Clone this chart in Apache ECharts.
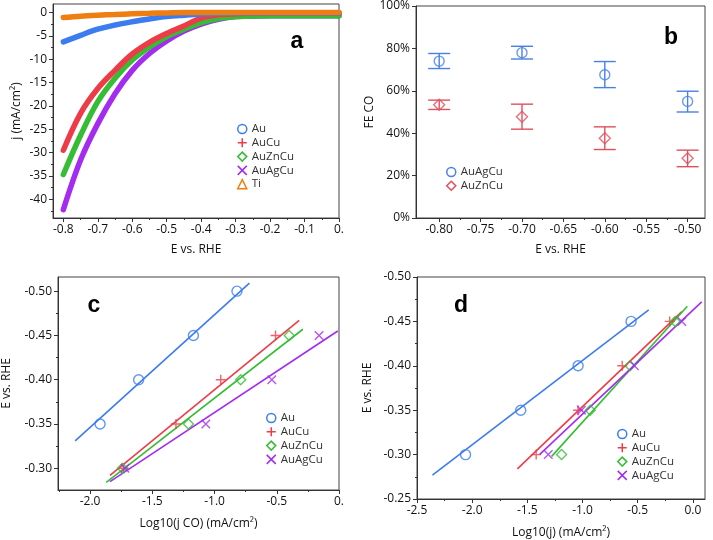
<!DOCTYPE html>
<html>
<head>
<meta charset="utf-8">
<script src="https://cdn.jsdelivr.net/npm/echarts@6/dist/echarts.min.js"></script>
<style>
  html, body { margin: 0; padding: 0; background: #fff; }
  #main { width: 713px; height: 540px; }
</style>
</head>
<body>
<div id="main"></div>
<script>
// ---- panel a : LSV curves ----
var aE = [-0.80, -0.75, -0.70, -0.65, -0.60, -0.55, -0.50, -0.45, -0.40, -0.35, -0.30, -0.25, -0.20, -0.15, -0.10, -0.05, 0.00];
var aAu = [-6.3, -4.9, -3.6, -2.7, -2.0, -1.4, -0.9, -0.6, -0.35, -0.2, -0.1, -0.1, -0.1, -0.1, -0.1, -0.1, -0.1];
var aAuCu = [-29.5, -21.6, -16.3, -12.4, -8.9, -6.4, -4.5, -2.9, -1.2, -0.5, -0.3, -0.2, -0.2, -0.2, -0.2, -0.2, -0.2];
var aAuZnCu = [-34.7, -26.3, -19.1, -14.1, -10.2, -7.4, -5.2, -3.6, -2.2, -1.3, -0.9, -0.75, -0.7, -0.7, -0.7, -0.7, -0.7];
var aAuAgCu = [-42.2, -31.6, -23.8, -17.4, -12.4, -8.8, -6.1, -4.0, -2.5, -1.5, -0.9, -0.75, -0.7, -0.7, -0.7, -0.7, -0.7];
var aTi = [-1.1, -0.8, -0.6, -0.45, -0.3, -0.2, -0.1, 0, 0, 0, 0, 0, 0, 0, 0, 0, 0];
var aXTicks = [-0.8, -0.7, -0.6, -0.5, -0.4, -0.3, -0.2, -0.1, 0];
var aXLabels = ['-0.8', '-0.7', '-0.6', '-0.5', '-0.4', '-0.3', '-0.2', '-0.1', '0.'];
var aXMinor = [-0.75, -0.65, -0.55, -0.45, -0.35, -0.25, -0.15, -0.05];
var aYTicks = [0, -5, -10, -15, -20, -25, -30, -35, -40];
var aYLabels = ['0', '-5', '-10', '-15', '-20', '-25', '-30', '-35', '-40'];
var aYMinor = [-2.5, -7.5, -12.5, -17.5, -22.5, -27.5, -32.5, -37.5, -42.5];

// ---- panel b : FE CO ----
var bE = [-0.80, -0.70, -0.60, -0.50];
var bAgFE = [74.0, 78.0, 67.6, 55.0];
var bAgLow = [70.5, 75.0, 61.5, 50.0];
var bAgHigh = [77.6, 81.0, 73.8, 59.8];
var bZnFE = [53.4, 47.8, 37.6, 28.2];
var bZnLow = [51.2, 41.9, 32.3, 24.2];
var bZnHigh = [55.6, 53.7, 43.0, 32.0];
var bXTicks = [-0.80, -0.75, -0.70, -0.65, -0.60, -0.55, -0.50];
var bXLabels = ['-0.80', '-0.75', '-0.70', '-0.65', '-0.60', '-0.55', '-0.50'];
var bXMinor = [-0.775, -0.725, -0.675, -0.625, -0.575, -0.525];
var bYTicks = [0, 20, 40, 60, 80, 100];
var bYLabels = ['0%', '20%', '40%', '60%', '80%', '100%'];

// ---- panel c : Tafel vs log j CO ----
var cE = [-0.30, -0.35, -0.40, -0.45];
var cAuE = [-0.35, -0.40, -0.45, -0.50];
var cAuX = [-1.92, -1.61, -1.17, -0.82];
var cAuCuX = [-1.73, -1.31, -0.95, -0.51];
var cAuZnCuX = [-1.74, -1.21, -0.79, -0.40];
var cAuAgCuX = [-1.72, -1.07, -0.54, -0.16];
var cAuFit = [[-2.12, -0.331], [-0.72, -0.509]];
var cAuCuFit = [[-1.84, -0.292], [-0.32, -0.467]];
var cAuZnCuFit = [[-1.87, -0.284], [-0.29, -0.457]];
var cAuAgCuFit = [[-1.84, -0.285], [-0.01, -0.455]];
var cXTicks = [-2.0, -1.5, -1.0, -0.5, 0];
var cXLabels = ['-2.0', '-1.5', '-1.0', '-0.5', '0.'];
var cXMinor = [-2.25, -1.75, -1.25, -0.75, -0.25];
var cYTicks = [-0.50, -0.45, -0.40, -0.35, -0.30];
var cYLabels = ['-0.50', '-0.45', '-0.40', '-0.35', '-0.30'];
var cYMinor = [-0.475, -0.425, -0.375, -0.325];

// ---- panel d : Tafel vs log j ----
var dE = [-0.30, -0.35, -0.40, -0.45];
var dAuX = [-2.06, -1.56, -1.04, -0.56];
var dAuCuX = [-1.42, -1.04, -0.64, -0.21];
var dAuZnCuX = [-1.19, -0.93, -0.57, -0.16];
var dAuAgCuX = [-1.31, -1.01, -0.53, -0.10];
var dAuFit = [[-2.36, -0.277], [-0.40, -0.463]];
var dAuCuFit = [[-1.59, -0.284], [-0.10, -0.461]];
var dAuZnCuFit = [[-1.28, -0.298], [-0.05, -0.467]];
var dAuAgCuFit = [[-1.39, -0.300], [0.08, -0.472]];
var dXTicks = [-2.5, -2.0, -1.5, -1.0, -0.5, 0.0];
var dXLabels = ['-2.5', '-2.0', '-1.5', '-1.0', '-0.5', '0.0'];
var dXMinor = [-2.25, -1.75, -1.25, -0.75, -0.25];
var dYTicks = [-0.50, -0.45, -0.40, -0.35, -0.30, -0.25];
var dYLabels = ['-0.50', '-0.45', '-0.40', '-0.35', '-0.30', '-0.25'];
var dYMinor = [-0.475, -0.425, -0.375, -0.325, -0.275];

var FONT = 'Open Sans';
var PLUS = 'path://M5,0L5,10M0,5L10,5';
var CROSS = 'path://M0,0L10,10M10,0L0,10';
var C = { blue: '#3b7cee', red: '#ee3b48', green: '#36bd36', purple: '#a32cf0', orange: '#ee7d12' };
var SYM = { Au: 'circle', AuCu: PLUS, AuZnCu: 'diamond', AuAgCu: CROSS, Ti: 'triangle' };

function zip(xs, ys) {
    var out = [];
    for (var i = 0; i < xs.length; i++) out.push([xs[i], ys[i]]);
    return out;
}
function lookup(ticks, labels) {
    return function (v) {
        for (var i = 0; i < ticks.length; i++) {
            if (Math.abs(ticks[i] - v) < 1e-6) return labels[i];
        }
        return '';
    };
}
// main axis with custom ticks / labels
function axis(g, pos, min, max, ticks, labels, name, gap, extra) {
    var a = {
        type: 'value', gridIndex: g, position: pos, offset: 0, min: min, max: max,
        axisLine: { show: true, onZero: false, lineStyle: { color: '#333', width: 1 } },
        axisTick: { show: true, customValues: ticks, length: 4, lineStyle: { color: '#333' } },
        axisLabel: { customValues: ticks, formatter: lookup(ticks, labels), color: '#111', fontSize: 12, fontFamily: FONT, margin: 6 },
        splitLine: { show: false },
        name: name, nameLocation: 'middle', nameGap: gap,
        nameTextStyle: { color: '#111', fontSize: 12, fontFamily: FONT }
    };
    for (var k in extra) a[k] = extra[k];
    return a;
}
// extra axis carrying only the short minor ticks
function minorAxis(g, pos, min, max, ticks, extra) {
    var a = {
        type: 'value', gridIndex: g, position: pos, offset: 0, min: min, max: max,
        axisLine: { show: false, onZero: false },
        axisTick: { show: true, customValues: ticks, length: 2, lineStyle: { color: '#333' } },
        axisLabel: { show: false },
        splitLine: { show: false }
    };
    for (var k in extra) a[k] = extra[k];
    return a;
}
function legendItem(name, sym, color) {
    return {
        name: name, icon: SYM[sym],
        itemStyle: { color: 'rgba(0,0,0,0)', borderColor: color, borderWidth: 1.5 }
    };
}
function legend(left, top, items) {
    return {
        orient: 'vertical', left: left, top: top, itemWidth: 9, itemHeight: 9, itemGap: 1.8,
        selectedMode: false,
        textStyle: { color: '#333', fontSize: 11.5, fontFamily: FONT },
        padding: 0, data: items
    };
}
function curve(name, ys, color, z) {
    return {
        name: name, type: 'line', xAxisIndex: 0, yAxisIndex: 0, data: zip(aE, ys),
        smooth: 0.35, showSymbol: false, z: z,
        lineStyle: { color: color, width: 5.5, cap: 'round' }, itemStyle: { color: color }
    };
}
function pts(name, xi, yi, xs, ys, color) {
    return {
        name: name, type: 'scatter', xAxisIndex: xi, yAxisIndex: yi, data: zip(xs, ys),
        symbol: SYM[name], symbolSize: name === 'AuAgCu' ? 8.5 : 10, z: 5,
        itemStyle: { color: 'rgba(0,0,0,0)', borderColor: color, borderWidth: 1.4 }
    };
}
function fit(name, xi, yi, d, color) {
    return {
        name: name, type: 'line', xAxisIndex: xi, yAxisIndex: yi, data: d,
        showSymbol: false, z: 3, lineStyle: { color: color, width: 1.6 }, itemStyle: { color: color }
    };
}
function errBars(name, lows, highs, color) {
    var d = [];
    for (var i = 0; i < bE.length; i++) d.push([bE[i], lows[i], highs[i]]);
    return {
        name: name, type: 'custom', xAxisIndex: 2, yAxisIndex: 2, data: d, z: 2,
        renderItem: function (params, api) {
            var top = api.coord([api.value(0), api.value(2)]);
            var bot = api.coord([api.value(0), api.value(1)]);
            var w = 11, st = { stroke: color, lineWidth: 1.4 };
            return {
                type: 'group', children: [
                    { type: 'line', shape: { x1: top[0], y1: top[1], x2: bot[0], y2: bot[1] }, style: st },
                    { type: 'line', shape: { x1: top[0] - w, y1: top[1], x2: top[0] + w, y2: top[1] }, style: st },
                    { type: 'line', shape: { x1: bot[0] - w, y1: bot[1], x2: bot[0] + w, y2: bot[1] }, style: st }
                ]
            };
        }
    };
}

var bBlue = '#4a7fe6', bRed = '#e04f5e';
var gridStyle = { show: true, borderColor: '#444', borderWidth: 1, backgroundColor: 'transparent' };

var option = {
    backgroundColor: '#fff',
    animation: false,
    grid: [
        Object.assign({ left: 53, top: 4, width: 286, height: 214 }, gridStyle),
        Object.assign({ left: 53, top: 277, width: 286, height: 213 }, gridStyle),
        Object.assign({ left: 416, top: 5, width: 289, height: 213 }, gridStyle),
        Object.assign({ left: 417, top: 277, width: 288, height: 222 }, gridStyle)
    ],
    xAxis: [
        axis(0, 'bottom', -0.83, 0, aXTicks, aXLabels, 'E vs. RHE', 26),
        axis(1, 'bottom', -2.258, 0, cXTicks, cXLabels, 'Log10(j CO) (mA/cm²)', 28),
        axis(2, 'bottom', -0.828, -0.479, bXTicks, bXLabels, 'E vs. RHE', 26),
        axis(3, 'bottom', -2.5, 0.11, dXTicks, dXLabels, 'Log10(j) (mA/cm²)', 28),
        minorAxis(0, 'bottom', -0.83, 0, aXMinor),
        minorAxis(1, 'bottom', -2.258, 0, cXMinor),
        minorAxis(2, 'bottom', -0.828, -0.479, bXMinor),
        minorAxis(3, 'bottom', -2.5, 0.11, dXMinor)
    ],
    yAxis: [
        axis(0, 'left', -44, 1.8, aYTicks, aYLabels, 'j (mA/cm²)', 30),
        axis(1, 'left', -0.516, -0.2755, cYTicks, cYLabels, 'E vs. RHE', 45, { inverse: true }),
        axis(2, 'left', 0, 100, bYTicks, bYLabels, 'FE CO', 40),
        axis(3, 'left', -0.50, -0.25, dYTicks, dYLabels, 'E vs. RHE', 43, { inverse: true }),
        minorAxis(0, 'left', -44, 1.8, aYMinor),
        minorAxis(1, 'left', -0.516, -0.2755, cYMinor, { inverse: true }),
        minorAxis(3, 'left', -0.50, -0.25, dYMinor, { inverse: true })
    ],
    legend: [
        legend(237, 123, [legendItem('Au', 'Au', C.blue), legendItem('AuCu', 'AuCu', C.red),
            legendItem('AuZnCu', 'AuZnCu', C.green), legendItem('AuAgCu', 'AuAgCu', C.purple),
            legendItem('Ti', 'Ti', C.orange)]),
        legend(266, 412, [legendItem('Au', 'Au', C.blue), legendItem('AuCu', 'AuCu', C.red),
            legendItem('AuZnCu', 'AuZnCu', C.green), legendItem('AuAgCu', 'AuAgCu', C.purple)]),
        legend(446, 166, [legendItem('AuAgCu ', 'Au', bBlue), legendItem('AuZnCu ', 'AuZnCu', bRed)]),
        legend(617, 428, [legendItem('Au', 'Au', C.blue), legendItem('AuCu', 'AuCu', C.red),
            legendItem('AuZnCu', 'AuZnCu', C.green), legendItem('AuAgCu', 'AuAgCu', C.purple)])
    ],
    graphic: [
        { type: 'text', x: 297, y: 42, style: { text: 'a', font: 'bold 23px "Liberation Sans"', fill: '#000', textAlign: 'center', textVerticalAlign: 'middle' } },
        { type: 'text', x: 671, y: 38, style: { text: 'b', font: 'bold 23px "Liberation Sans"', fill: '#000', textAlign: 'center', textVerticalAlign: 'middle' } },
        { type: 'text', x: 94, y: 306, style: { text: 'c', font: 'bold 23px "Liberation Sans"', fill: '#000', textAlign: 'center', textVerticalAlign: 'middle' } },
        { type: 'text', x: 461, y: 306, style: { text: 'd', font: 'bold 23px "Liberation Sans"', fill: '#000', textAlign: 'center', textVerticalAlign: 'middle' } }
    ],
    series: [
        curve('Au', aAu, C.blue, 4),
        curve('AuCu', aAuCu, C.red, 3),
        curve('AuZnCu', aAuZnCu, C.green, 2),
        curve('AuAgCu', aAuAgCu, C.purple, 1),
        curve('Ti', aTi, C.orange, 5),

        fit('Au', 1, 1, cAuFit, C.blue),
        fit('AuCu', 1, 1, cAuCuFit, C.red),
        fit('AuZnCu', 1, 1, cAuZnCuFit, C.green),
        fit('AuAgCu', 1, 1, cAuAgCuFit, C.purple),
        pts('Au', 1, 1, cAuX, cAuE, C.blue),
        pts('AuCu', 1, 1, cAuCuX, cE, C.red),
        pts('AuZnCu', 1, 1, cAuZnCuX, cE, C.green),
        pts('AuAgCu', 1, 1, cAuAgCuX, cE, C.purple),

        errBars('AuAgCu ', bAgLow, bAgHigh, bBlue),
        errBars('AuZnCu ', bZnLow, bZnHigh, bRed),
        {
            name: 'AuAgCu ', type: 'scatter', xAxisIndex: 2, yAxisIndex: 2, data: zip(bE, bAgFE), z: 5,
            symbol: 'circle', symbolSize: 10, itemStyle: { color: 'rgba(0,0,0,0)', borderColor: bBlue, borderWidth: 1.4 }
        },
        {
            name: 'AuZnCu ', type: 'scatter', xAxisIndex: 2, yAxisIndex: 2, data: zip(bE, bZnFE), z: 5,
            symbol: 'diamond', symbolSize: 11, itemStyle: { color: 'rgba(0,0,0,0)', borderColor: bRed, borderWidth: 1.4 }
        },

        fit('Au', 3, 3, dAuFit, C.blue),
        fit('AuCu', 3, 3, dAuCuFit, C.red),
        fit('AuZnCu', 3, 3, dAuZnCuFit, C.green),
        fit('AuAgCu', 3, 3, dAuAgCuFit, C.purple),
        pts('Au', 3, 3, dAuX, dE, C.blue),
        pts('AuCu', 3, 3, dAuCuX, dE, C.red),
        pts('AuZnCu', 3, 3, dAuZnCuX, dE, C.green),
        pts('AuAgCu', 3, 3, dAuAgCuX, dE, C.purple)
    ]
};
// panel b legend shows the plain names
option.legend[2].formatter = function (n) { return n.trim(); };

var myChart = echarts.init(document.getElementById('main'));
myChart.setOption(option);
</script>
</body>
</html>
